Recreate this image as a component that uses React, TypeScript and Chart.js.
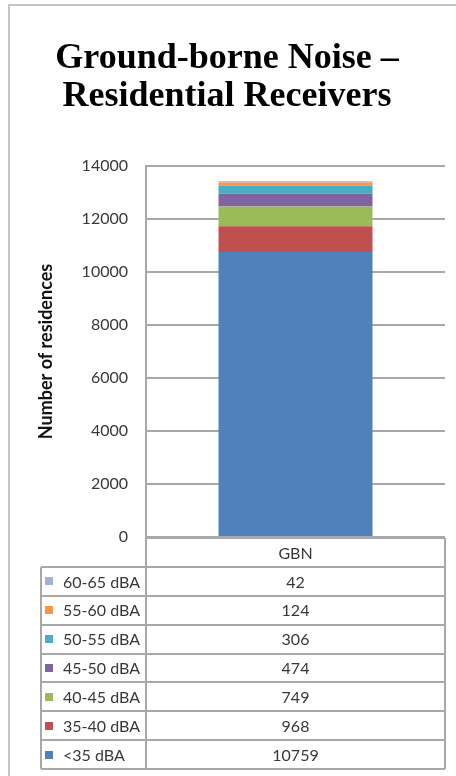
import React, { useEffect, useRef } from "react";
import { Chart, registerables } from "chart.js";

Chart.register(...registerables);

const categories = ["GBN"];
const seriesLabels = ["<35 dBA", "35-40 dBA", "40-45 dBA", "45-50 dBA", "50-55 dBA", "55-60 dBA", "60-65 dBA"];
const seriesValues = [[10759], [968], [749], [474], [306], [124], [42]];
const seriesColors = ["#4F81BD", "#C0504D", "#9BBB59", "#8064A2", "#4BACC6", "#F79646", "#A3B0DA"];
const yTicks = [0, 2000, 4000, 6000, 8000, 10000, 12000, 14000];
const titleLines = ["Ground-borne Noise \u2013", "Residential Receivers"];
const yTitle = "Number of residences";

const SANS = "Lato, 'Open Sans', sans-serif";
const LINE = "#a8a8a8";
const TEXT = "#383838";

const framePlugin = {
  id: "frameAndTable",
  beforeDraw(chart: any) {
    const ctx = chart.ctx;
    ctx.save();
    ctx.fillStyle = "#ffffff";
    ctx.fillRect(0, 0, chart.width, chart.height);
    ctx.strokeStyle = "#c4c4c4";
    ctx.lineWidth = 2;
    ctx.beginPath();
    ctx.moveTo(9, chart.height);
    ctx.lineTo(9, 5);
    ctx.lineTo(chart.width, 5);
    ctx.stroke();
    ctx.restore();
  },
  afterDraw(chart: any) {
    const ctx = chart.ctx;
    const area = chart.chartArea;
    const left = area.left;
    const right = area.right;
    const top = area.bottom + 1;
    const headerH = 29;
    const legendLeft = 41;
    const datasets = chart.data.datasets;
    const n = datasets.length;
    const rowsTop = top + headerH;
    const rowsBottom = 769;
    const rowH = (rowsBottom - rowsTop) / n;
    const cx = (left + right) / 2;

    ctx.save();
    ctx.strokeStyle = LINE;
    ctx.lineWidth = 2;
    ctx.beginPath();
    ctx.moveTo(left, top);
    ctx.lineTo(right, top);
    ctx.moveTo(left, area.top);
    ctx.lineTo(left, rowsBottom);
    ctx.moveTo(right, top);
    ctx.lineTo(right, rowsBottom);
    ctx.moveTo(legendLeft, rowsTop);
    ctx.lineTo(legendLeft, rowsBottom);
    for (let i = 0; i <= n; i++) {
      const y = Math.round(rowsTop + i * rowH);
      ctx.moveTo(legendLeft, y);
      ctx.lineTo(right, y);
    }
    ctx.stroke();

    ctx.font = "16px " + SANS;
    ctx.fillStyle = TEXT;
    ctx.textBaseline = "middle";
    ctx.textAlign = "center";
    ctx.fillText(String(chart.data.labels[0]), cx, top + headerH / 2 + 1);

    for (let i = 0; i < n; i++) {
      const ds = datasets[n - 1 - i];
      const yc = rowsTop + i * rowH + rowH / 2 + 1;
      ctx.fillStyle = ds.backgroundColor;
      ctx.fillRect(45, Math.round(yc - 5), 8, 8);
      ctx.fillStyle = TEXT;
      ctx.textAlign = "left";
      ctx.fillText(ds.label, 63, yc);
      ctx.textAlign = "center";
      ctx.fillText(String(ds.data[0]), cx, yc);
    }
    ctx.restore();
  },
};

export default function App() {
  const ref = useRef<HTMLCanvasElement | null>(null);
  useEffect(() => {
    if (!ref.current) return;
    const chart = new Chart(ref.current, {
      type: "bar",
      data: {
        labels: categories,
        datasets: seriesLabels.map((label, i) => ({
          label,
          data: seriesValues[i],
          backgroundColor: seriesColors[i],
          borderWidth: 0,
          categoryPercentage: 1,
          barPercentage: 0.515,
        })),
      },
      options: {
        responsive: false,
        animation: false,
        devicePixelRatio: 1,
        layout: { padding: { left: 9, right: 11, top: 0, bottom: 239 } },
        plugins: {
          legend: { display: false },
          tooltip: { enabled: false },
          title: {
            display: true,
            text: titleLines,
            color: "#000000",
            font: { family: "'Liberation Serif', serif", size: 36, weight: "bold", lineHeight: 38 / 36 },
            padding: { top: 40, bottom: 50 },
          },
        },
        scales: {
          x: { stacked: true, display: false },
          y: {
            stacked: true,
            min: 0,
            max: 14000,
            afterFit: (scale: any) => {
              scale.width = 137;
            },
            afterBuildTicks: (scale: any) => {
              scale.ticks = yTicks.map((v) => ({ value: v }));
            },
            ticks: {
              color: TEXT,
              padding: 18,
              font: { family: SANS, size: 16 },
              callback: (v: any) => String(v),
            },
            grid: { color: LINE, lineWidth: 2, drawTicks: false },
            border: { display: true, color: LINE, width: 2 },
            title: {
              display: true,
              text: yTitle,
              color: "#111111",
              font: { family: SANS, size: 18, weight: "bold", lineHeight: 1.2 },
              padding: { top: 26, bottom: 0 },
            },
          },
        },
      },
      plugins: [framePlugin],
    });
    return () => chart.destroy();
  }, []);
  return (
    <div style={{ position: "absolute", left: 0, top: 0, width: 456, height: 776 }}>
      <canvas ref={ref} width={456} height={776} />
    </div>
  );
}
